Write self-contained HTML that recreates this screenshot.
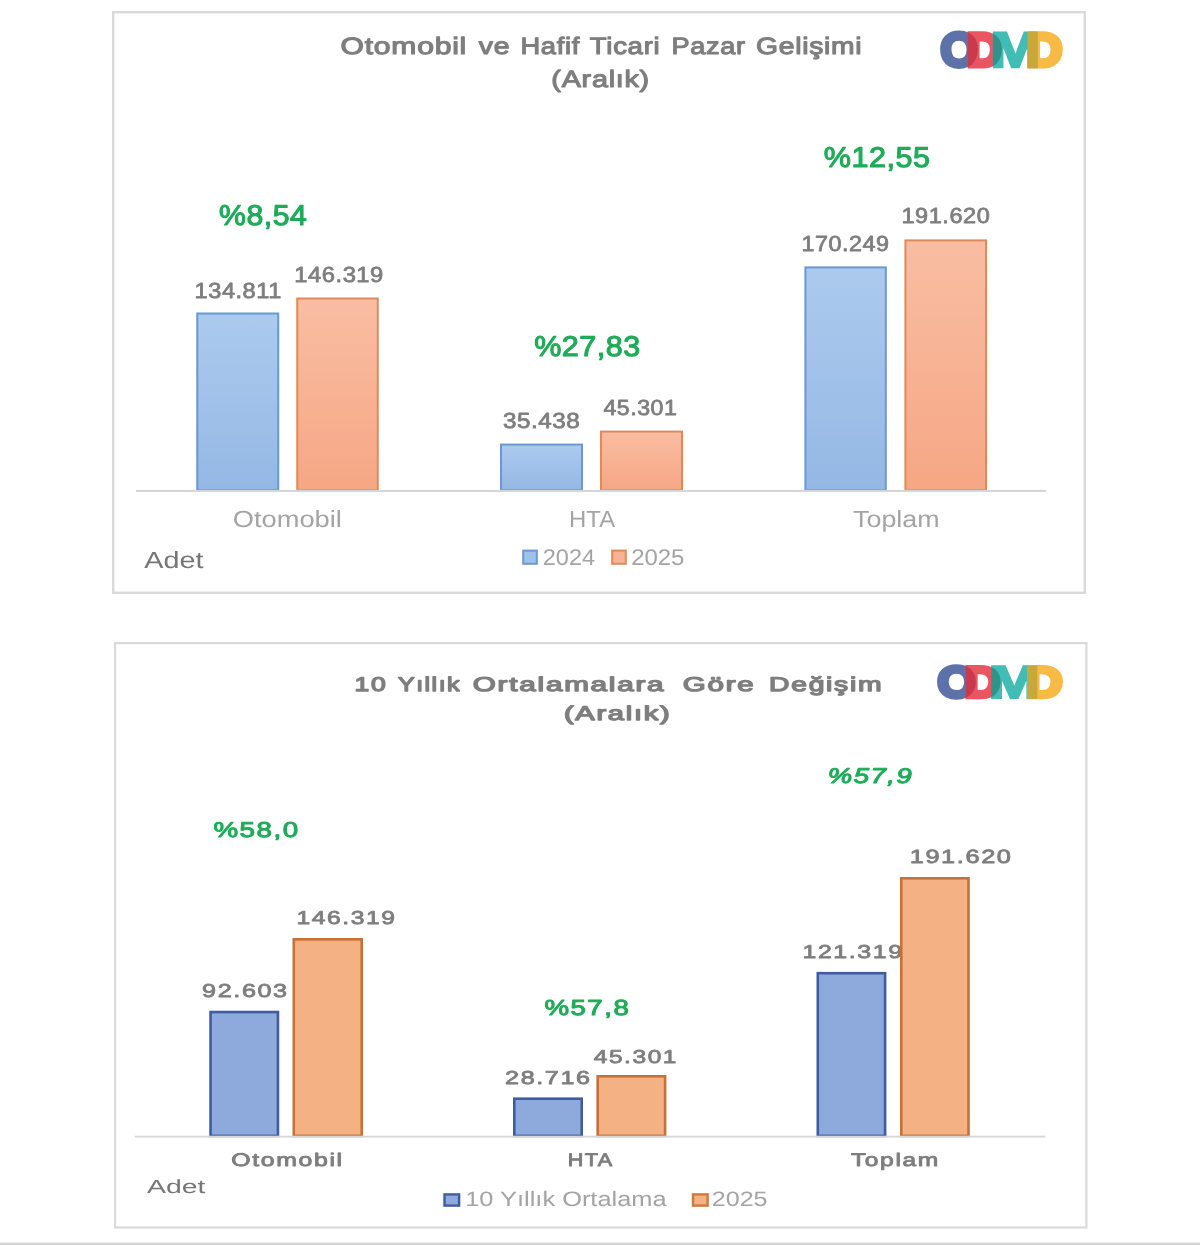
<!DOCTYPE html>
<html lang="tr">
<head>
<meta charset="utf-8">
<title>ODMD - Otomobil ve Hafif Ticari Pazar Gelişimi (Aralık)</title>
<style>
html,body{margin:0;padding:0;background:#ffffff;}
body{width:1200px;height:1245px;overflow:hidden;position:relative;font-family:"Liberation Sans",sans-serif;}
svg{display:block;position:absolute;left:0;top:0;}
text{font-family:"Liberation Sans",sans-serif;text-rendering:geometricPrecision;}

</style>
</head>
<body>
<svg width="1200" height="1245" viewBox="0 0 1200 1245">
<defs>
<linearGradient id="gb" x1="0" y1="0" x2="0" y2="1"><stop offset="0" stop-color="#accaee"/><stop offset="1" stop-color="#94b8e4"/></linearGradient>
<linearGradient id="go" x1="0" y1="0" x2="0" y2="1"><stop offset="0" stop-color="#f9bda3"/><stop offset="1" stop-color="#f6a784"/></linearGradient>
<linearGradient id="gbot" x1="0" y1="0" x2="0" y2="1"><stop offset="0" stop-color="#fbfbfb"/><stop offset="0.45" stop-color="#dedede"/><stop offset="1" stop-color="#c9c9c9"/></linearGradient>
</defs>
<rect x="0" y="0" width="1200" height="1245" fill="#ffffff"/>

<rect x="113.2" y="12.2" width="971.6" height="580.6" fill="#ffffff" stroke="#dadada" stroke-width="2.4"/>
<rect x="115.1" y="643.1" width="971.3" height="584.4" fill="#ffffff" stroke="#dadada" stroke-width="2.2"/>
<rect x="0" y="1241.6" width="1200" height="3.4" fill="url(#gbot)"/>
<g id="chart1">
<text y="54" font-size="23.6" font-weight="400" fill="#7e7e7e" stroke="#7e7e7e" stroke-width="1.1" stroke-linejoin="round" letter-spacing="0.6"><tspan x="340.60" textLength="126.49" lengthAdjust="spacingAndGlyphs">Otomobil</tspan> <tspan x="478.80" textLength="31.44" lengthAdjust="spacingAndGlyphs">ve</tspan> <tspan x="520.44" textLength="59.62" lengthAdjust="spacingAndGlyphs">Hafif</tspan> <tspan x="589.84" textLength="70.50" lengthAdjust="spacingAndGlyphs">Ticari</tspan> <tspan x="671.45" textLength="74.29" lengthAdjust="spacingAndGlyphs">Pazar</tspan> <tspan x="756.04" textLength="106.33" lengthAdjust="spacingAndGlyphs">Gelişimi</tspan></text>
<text x="551.35" y="87" font-size="23.6" font-weight="400" fill="#7e7e7e" stroke="#7e7e7e" stroke-width="1.1" stroke-linejoin="round" letter-spacing="0.6" textLength="98.57" lengthAdjust="spacingAndGlyphs">(Aralık)</text>
<rect x="197.25" y="313.50" width="81.00" height="176.70" fill="url(#gb)" stroke="#6a98d0" stroke-width="2"/>
<rect x="297.25" y="298.50" width="80.50" height="191.70" fill="url(#go)" stroke="#e08a58" stroke-width="2"/>
<rect x="501.00" y="444.60" width="81.00" height="45.60" fill="url(#gb)" stroke="#6a98d0" stroke-width="2"/>
<rect x="601.00" y="431.60" width="81.00" height="58.60" fill="url(#go)" stroke="#e08a58" stroke-width="2"/>
<rect x="805.40" y="267.40" width="80.40" height="222.80" fill="url(#gb)" stroke="#6a98d0" stroke-width="2"/>
<rect x="905.40" y="240.40" width="80.60" height="249.80" fill="url(#go)" stroke="#e08a58" stroke-width="2"/>
<rect x="136" y="489.9" width="910" height="2.1" fill="#d6d6d6"/>
<text x="219.03" y="225" font-size="28.6" font-weight="400" fill="#1fab58" stroke="#1fab58" stroke-width="1.1" stroke-linejoin="round" letter-spacing="0.5" textLength="88.26" lengthAdjust="spacingAndGlyphs">%8,54</text>
<text x="534.17" y="356" font-size="28.6" font-weight="400" fill="#1fab58" stroke="#1fab58" stroke-width="1.1" stroke-linejoin="round" letter-spacing="0.5" textLength="106.71" lengthAdjust="spacingAndGlyphs">%27,83</text>
<text x="823.81" y="167" font-size="28.6" font-weight="400" fill="#1fab58" stroke="#1fab58" stroke-width="1.1" stroke-linejoin="round" letter-spacing="0.5" textLength="106.83" lengthAdjust="spacingAndGlyphs">%12,55</text>
<text x="194.58" y="298" font-size="21.8" font-weight="400" fill="#7e7e7e" stroke="#7e7e7e" stroke-width="0.8" stroke-linejoin="round" letter-spacing="0.5" textLength="87.26" lengthAdjust="spacingAndGlyphs">134.811</text>
<text x="294.34" y="282" font-size="21.8" font-weight="400" fill="#7e7e7e" stroke="#7e7e7e" stroke-width="0.8" stroke-linejoin="round" letter-spacing="0.5" textLength="89.50" lengthAdjust="spacingAndGlyphs">146.319</text>
<text x="503.05" y="428" font-size="21.8" font-weight="400" fill="#7e7e7e" stroke="#7e7e7e" stroke-width="0.8" stroke-linejoin="round" letter-spacing="0.5" textLength="77.34" lengthAdjust="spacingAndGlyphs">35.438</text>
<text x="603.47" y="415" font-size="21.8" font-weight="400" fill="#7e7e7e" stroke="#7e7e7e" stroke-width="0.8" stroke-linejoin="round" letter-spacing="0.5" textLength="73.95" lengthAdjust="spacingAndGlyphs">45.301</text>
<text x="801.56" y="251" font-size="21.8" font-weight="400" fill="#7e7e7e" stroke="#7e7e7e" stroke-width="0.8" stroke-linejoin="round" letter-spacing="0.5" textLength="87.98" lengthAdjust="spacingAndGlyphs">170.249</text>
<text x="901.51" y="223" font-size="21.8" font-weight="400" fill="#7e7e7e" stroke="#7e7e7e" stroke-width="0.8" stroke-linejoin="round" letter-spacing="0.5" textLength="88.76" lengthAdjust="spacingAndGlyphs">191.620</text>
<text x="232.76" y="527" font-size="23.4" font-weight="400" fill="#a4a4a4" textLength="109.09" lengthAdjust="spacingAndGlyphs">Otomobil</text>
<text x="569.10" y="527" font-size="23.4" font-weight="400" fill="#a4a4a4" textLength="46.01" lengthAdjust="spacingAndGlyphs">HTA</text>
<text x="853.07" y="527" font-size="23.4" font-weight="400" fill="#a4a4a4" textLength="86.46" lengthAdjust="spacingAndGlyphs">Toplam</text>
<text x="144.26" y="568" font-size="23.4" font-weight="400" fill="#767676" textLength="59.18" lengthAdjust="spacingAndGlyphs">Adet</text>
<text x="542.84" y="565" font-size="22.7" font-weight="400" fill="#a4a4a4" textLength="52.19" lengthAdjust="spacingAndGlyphs">2024</text>
<text x="631.22" y="565" font-size="22.7" font-weight="400" fill="#a4a4a4" textLength="53.20" lengthAdjust="spacingAndGlyphs">2025</text>
<rect x="523.2" y="550.6" width="13.6" height="13.2" fill="#a0c1e9" stroke="#6a98d0" stroke-width="2"/>
<rect x="612.2" y="550.6" width="13.6" height="13.2" fill="#f8b294" stroke="#e08a58" stroke-width="2"/>
</g>
<g id="chart2">
<text y="691" font-size="19.9" font-weight="400" fill="#7e7e7e" stroke="#7e7e7e" stroke-width="1.3" stroke-linejoin="round" letter-spacing="1.2"><tspan x="354.59" textLength="32.66" lengthAdjust="spacingAndGlyphs">10</tspan> <tspan x="397.99" textLength="63.10" lengthAdjust="spacingAndGlyphs">Yıllık</tspan> <tspan x="472.80" textLength="192.57" lengthAdjust="spacingAndGlyphs">Ortalamalara</tspan> <tspan x="682.84" textLength="72.60" lengthAdjust="spacingAndGlyphs">Göre</tspan> <tspan x="769.11" textLength="114.04" lengthAdjust="spacingAndGlyphs">Değişim</tspan></text>
<text x="563.91" y="720" font-size="19.9" font-weight="400" fill="#7e7e7e" stroke="#7e7e7e" stroke-width="1.3" stroke-linejoin="round" letter-spacing="1.2" textLength="107.60" lengthAdjust="spacingAndGlyphs">(Aralık)</text>
<text x="213.42" y="837" font-size="21.4" font-weight="400" fill="#1fab58" stroke="#1fab58" stroke-width="1.0" stroke-linejoin="round" letter-spacing="1.2" textLength="86.31" lengthAdjust="spacingAndGlyphs">%58,0</text>
<text x="544.41" y="1015" font-size="21.8" font-weight="400" fill="#1fab58" stroke="#1fab58" stroke-width="1.0" stroke-linejoin="round" letter-spacing="1.2" textLength="85.93" lengthAdjust="spacingAndGlyphs">%57,8</text>
<text x="827.81" y="783" font-size="21.3" font-weight="400" fill="#1fab58" font-style="italic" stroke="#1fab58" stroke-width="1.0" stroke-linejoin="round" letter-spacing="1.2" textLength="85.53" lengthAdjust="spacingAndGlyphs">%57,9</text>
<text x="202.07" y="997" font-size="18.6" font-weight="400" fill="#7e7e7e" stroke="#7e7e7e" stroke-width="0.8" stroke-linejoin="round" letter-spacing="1.2" textLength="86.65" lengthAdjust="spacingAndGlyphs">92.603</text>
<text x="296.43" y="924" font-size="18.6" font-weight="400" fill="#7e7e7e" stroke="#7e7e7e" stroke-width="0.8" stroke-linejoin="round" letter-spacing="1.2" textLength="100.06" lengthAdjust="spacingAndGlyphs">146.319</text>
<text x="505.09" y="1084" font-size="18.6" font-weight="400" fill="#7e7e7e" stroke="#7e7e7e" stroke-width="0.8" stroke-linejoin="round" letter-spacing="1.2" textLength="86.55" lengthAdjust="spacingAndGlyphs">28.716</text>
<text x="593.69" y="1063" font-size="18.6" font-weight="400" fill="#7e7e7e" stroke="#7e7e7e" stroke-width="0.8" stroke-linejoin="round" letter-spacing="1.2" textLength="84.39" lengthAdjust="spacingAndGlyphs">45.301</text>
<text x="802.47" y="958" font-size="18.6" font-weight="400" fill="#7e7e7e" stroke="#7e7e7e" stroke-width="0.8" stroke-linejoin="round" letter-spacing="1.2" textLength="101.24" lengthAdjust="spacingAndGlyphs">121.319</text>
<text x="909.71" y="863" font-size="19.2" font-weight="400" fill="#7e7e7e" stroke="#7e7e7e" stroke-width="0.8" stroke-linejoin="round" letter-spacing="1.2" textLength="102.84" lengthAdjust="spacingAndGlyphs">191.620</text>
<rect x="210.55" y="1012.05" width="67.40" height="123.85" fill="#8eaadc" stroke="#3f5d9d" stroke-width="2.6"/>
<rect x="293.80" y="939.30" width="67.90" height="196.60" fill="#f4b183" stroke="#c6703a" stroke-width="2.6"/>
<rect x="514.30" y="1098.70" width="67.40" height="37.20" fill="#8eaadc" stroke="#3f5d9d" stroke-width="2.6"/>
<rect x="597.70" y="1076.30" width="67.40" height="59.60" fill="#f4b183" stroke="#c6703a" stroke-width="2.6"/>
<rect x="817.80" y="973.20" width="67.30" height="162.70" fill="#8eaadc" stroke="#3f5d9d" stroke-width="2.6"/>
<rect x="901.30" y="878.30" width="67.20" height="257.60" fill="#f4b183" stroke="#c6703a" stroke-width="2.6"/>
<rect x="134.8" y="1135.7" width="910.7" height="1.8" fill="#d6d6d6"/>
<text x="231.29" y="1166" font-size="18.2" font-weight="400" fill="#7e7e7e" stroke="#7e7e7e" stroke-width="0.85" stroke-linejoin="round" letter-spacing="1.2" textLength="112.43" lengthAdjust="spacingAndGlyphs">Otomobil</text>
<text x="567.75" y="1166" font-size="18.2" font-weight="400" fill="#7e7e7e" stroke="#7e7e7e" stroke-width="0.85" stroke-linejoin="round" letter-spacing="1.2" textLength="45.82" lengthAdjust="spacingAndGlyphs">HTA</text>
<text x="850.95" y="1166" font-size="18.2" font-weight="400" fill="#7e7e7e" stroke="#7e7e7e" stroke-width="0.85" stroke-linejoin="round" letter-spacing="1.2" textLength="88.95" lengthAdjust="spacingAndGlyphs">Toplam</text>
<text x="147.00" y="1193" font-size="18.9" font-weight="400" fill="#767676" textLength="58.44" lengthAdjust="spacingAndGlyphs">Adet</text>
<text x="465.21" y="1206" font-size="20.9" font-weight="400" fill="#a4a4a4" textLength="201.42" lengthAdjust="spacingAndGlyphs">10 Yıllık Ortalama</text>
<text x="711.80" y="1206" font-size="20.9" font-weight="400" fill="#a4a4a4" textLength="55.77" lengthAdjust="spacingAndGlyphs">2025</text>
<rect x="444.5" y="1194.4" width="14.6" height="11.2" fill="#8eaadc" stroke="#3f5d9d" stroke-width="2.4"/>
<rect x="693" y="1194.4" width="14.6" height="11.2" fill="#f4b183" stroke="#d0783c" stroke-width="2.4"/>
</g>
<g class="logo" transform="translate(940.50,68.50) scale(1.0000,1.0000) translate(-940.5,-68.5)"><defs><mask id="m10" maskUnits="userSpaceOnUse" x="930" y="20" width="150" height="60"><text transform="translate(941.45,64.75) scale(1.0130,1)" font-size="44.5" font-weight="400" fill="#ffffff" stroke="#ffffff" stroke-width="7" stroke-linejoin="miter" stroke-miterlimit="3">O</text></mask><mask id="m11" maskUnits="userSpaceOnUse" x="930" y="20" width="150" height="60"><text transform="translate(967.10,65.50) scale(1.0120,1)" font-size="47.0" font-weight="700" fill="#ffffff" stroke="#ffffff" stroke-width="5" stroke-linejoin="miter" stroke-miterlimit="3">D</text></mask><mask id="m12" maskUnits="userSpaceOnUse" x="930" y="20" width="150" height="60"><text transform="translate(990.17,66.80) scale(1.2040,1)" font-size="50.0" font-weight="700" fill="#ffffff" stroke="#ffffff" stroke-width="2.4" stroke-linejoin="miter" stroke-miterlimit="3">M</text></mask></defs>
<text transform="translate(941.45,64.75) scale(1.0130,1)" font-size="44.5" font-weight="400" fill="#5c72a8" stroke="#5c72a8" stroke-width="7" stroke-linejoin="miter" stroke-miterlimit="3">O</text>
<text transform="translate(967.10,65.50) scale(1.0120,1)" font-size="47.0" font-weight="700" fill="#ea5562" stroke="#ea5562" stroke-width="5" stroke-linejoin="miter" stroke-miterlimit="3">D</text>
<g mask="url(#m10)"><text transform="translate(967.10,65.50) scale(1.0120,1)" font-size="47.0" font-weight="700" fill="#c93a4c" stroke="#c93a4c" stroke-width="5" stroke-linejoin="miter" stroke-miterlimit="3">D</text></g>
<text transform="translate(990.17,66.80) scale(1.2040,1)" font-size="50.0" font-weight="700" fill="#41bdb5" stroke="#41bdb5" stroke-width="2.4" stroke-linejoin="miter" stroke-miterlimit="3">M</text>
<g mask="url(#m11)"><text transform="translate(990.17,66.80) scale(1.2040,1)" font-size="50.0" font-weight="700" fill="#2f9488" stroke="#2f9488" stroke-width="2.4" stroke-linejoin="miter" stroke-miterlimit="3">M</text></g>
<text transform="translate(1027.20,65.50) scale(1.0300,1)" font-size="47.0" font-weight="700" fill="#f7ba45" stroke="#f7ba45" stroke-width="5" stroke-linejoin="miter" stroke-miterlimit="3">D</text>
<g mask="url(#m12)"><text transform="translate(1027.20,65.50) scale(1.0300,1)" font-size="47.0" font-weight="700" fill="#c8a83a" stroke="#c8a83a" stroke-width="5" stroke-linejoin="miter" stroke-miterlimit="3">D</text></g>
</g>
<g class="logo" transform="translate(937.60,699.30) scale(1.0250,0.9210) translate(-940.5,-68.5)"><defs><mask id="m20" maskUnits="userSpaceOnUse" x="930" y="20" width="150" height="60"><text transform="translate(941.45,64.75) scale(1.0130,1)" font-size="44.5" font-weight="400" fill="#ffffff" stroke="#ffffff" stroke-width="7" stroke-linejoin="miter" stroke-miterlimit="3">O</text></mask><mask id="m21" maskUnits="userSpaceOnUse" x="930" y="20" width="150" height="60"><text transform="translate(967.10,65.50) scale(1.0120,1)" font-size="47.0" font-weight="700" fill="#ffffff" stroke="#ffffff" stroke-width="5" stroke-linejoin="miter" stroke-miterlimit="3">D</text></mask><mask id="m22" maskUnits="userSpaceOnUse" x="930" y="20" width="150" height="60"><text transform="translate(990.17,66.80) scale(1.2040,1)" font-size="50.0" font-weight="700" fill="#ffffff" stroke="#ffffff" stroke-width="2.4" stroke-linejoin="miter" stroke-miterlimit="3">M</text></mask></defs>
<text transform="translate(941.45,64.75) scale(1.0130,1)" font-size="44.5" font-weight="400" fill="#5c72a8" stroke="#5c72a8" stroke-width="7" stroke-linejoin="miter" stroke-miterlimit="3">O</text>
<text transform="translate(967.10,65.50) scale(1.0120,1)" font-size="47.0" font-weight="700" fill="#ea5562" stroke="#ea5562" stroke-width="5" stroke-linejoin="miter" stroke-miterlimit="3">D</text>
<g mask="url(#m20)"><text transform="translate(967.10,65.50) scale(1.0120,1)" font-size="47.0" font-weight="700" fill="#c93a4c" stroke="#c93a4c" stroke-width="5" stroke-linejoin="miter" stroke-miterlimit="3">D</text></g>
<text transform="translate(990.17,66.80) scale(1.2040,1)" font-size="50.0" font-weight="700" fill="#41bdb5" stroke="#41bdb5" stroke-width="2.4" stroke-linejoin="miter" stroke-miterlimit="3">M</text>
<g mask="url(#m21)"><text transform="translate(990.17,66.80) scale(1.2040,1)" font-size="50.0" font-weight="700" fill="#2f9488" stroke="#2f9488" stroke-width="2.4" stroke-linejoin="miter" stroke-miterlimit="3">M</text></g>
<text transform="translate(1027.20,65.50) scale(1.0300,1)" font-size="47.0" font-weight="700" fill="#f7ba45" stroke="#f7ba45" stroke-width="5" stroke-linejoin="miter" stroke-miterlimit="3">D</text>
<g mask="url(#m22)"><text transform="translate(1027.20,65.50) scale(1.0300,1)" font-size="47.0" font-weight="700" fill="#c8a83a" stroke="#c8a83a" stroke-width="5" stroke-linejoin="miter" stroke-miterlimit="3">D</text></g>
</g>
</svg>
</body>
</html>
